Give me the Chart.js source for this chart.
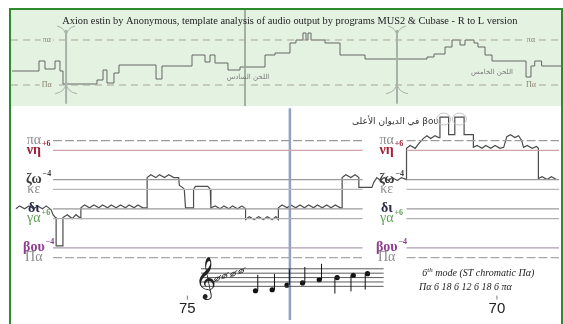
<!DOCTYPE html>
<html><head><meta charset="utf-8">
<script src="https://cdn.jsdelivr.net/npm/chart.js@4.4.0/dist/chart.umd.min.js"></script>
<style>
html,body{margin:0;padding:0;background:#fff;}
#wrap{position:relative;width:563px;height:324px;overflow:hidden;background:#fff;}
#main{position:absolute;left:0;top:0;}
#top{position:absolute;left:11px;top:10px;background:#e4f2e2;}
#frame{position:absolute;left:9px;top:8px;width:554px;height:330px;border-left:2px solid #2d8a2d;border-top:2px solid #2d8a2d;border-right:2px solid #2d8a2d;box-sizing:border-box;pointer-events:none;}
</style></head><body>
<div id="wrap"><canvas id="main" width="563" height="324"></canvas><canvas id="top" width="551" height="96"></canvas><div id="frame"></div></div>
<script>
const SERIF = "'Liberation Serif','DejaVu Serif',serif";

// ---------- main chart data (x = bar number, R to L; y = moria above Πα) ----------
const refNames  = ["πα","νη","ζω","κε","δι","γα","βου","Πα"];
const refSups   = ["","+6","−4","","","+6","−4",""];
const refMoria  = [72,66,48,42,30,24,6,0];
const refColors = ["#9c9c9c","#cfa3ab","#9a9a9a","#b8b8b8","#9a9a9a","#b0b0b0","#ab9db4","#a8a8a8"];
const labelColors = ["#8c8c8c","#a3203c","#3c3c3c","#8c8c8c","#262a48","#5f9e55","#8e3e8e","#8c8c8c"];
const labelBold = [false,true,true,false,true,false,true,false];
const refSpan = [77.17, 72.17, 71.46, 68.99];
const labelPos = [77.48, 71.78];
const tickValues = [75, 70];
const tickLabels = ["75", "70"];
const markerBar = 73.344;

const mainTrace = [
 [77.77,30],[77.71,31.8],[77.63,30],[77.56,31.8],[77.48,30],[77.42,31.8],[77.34,30],[77.28,31.8],[77.20,29.4],[77.17,26.4],[77.13,24.6],[77.12,24.6],[77.12,7.2],[77.01,7.2],[77.01,24.6],[76.94,26.4],[76.86,24],[76.80,26.4],[76.72,24],[76.72,30.6],
 [76.66,32.4],[76.58,30.6],[76.51,32.4],[76.43,30.6],[76.37,32.4],[76.29,30.6],[76.23,32.4],[76.15,30.6],[76.08,32.4],[76.00,30.6],[75.94,32.4],[75.86,30.6],[75.80,32.4],[75.72,30.6],[75.65,30.6],[75.65,49.2],
 [75.59,51],[75.51,49.2],[75.45,51],[75.37,49.2],[75.30,51],[75.22,49.2],[75.14,49.2],[75.13,44.4],[75.08,43.2],[75.05,42],[75.03,30.6],
 [74.90,30.6],[74.90,42],[74.87,43.8],[74.67,43.8],[74.63,42],[74.62,30.6],
 [74.55,31.8],[74.47,30],[74.41,31.8],[74.33,30],[74.27,31.8],[74.19,30],[74.12,31.8],[74.06,30],[74.06,23.4],
 [74.00,25.2],[73.92,23.4],[73.85,25.2],[73.77,23.4],[73.71,25.2],[73.63,23.4],[73.57,25.2],[73.53,23.4],[73.53,30.6],
 [73.47,32.4],[73.39,30.6],[73.33,32.4],[73.25,30.6],[73.18,32.4],[73.11,30.6],[73.04,32.4],[72.96,30.6],[72.90,32.4],[72.82,30.6],[72.75,32.4],[72.68,30.6],[72.61,32.4],[72.53,30.6],[72.50,30.6],[72.50,49.2],
 [72.44,51],[72.36,49.2],[72.29,51],[72.23,49.2],[72.23,43.2],
 [72.02,43.2],[71.99,46.2],[71.94,49.2],[71.88,47.4],[71.82,49.2],[71.75,47.4],[71.69,49.2],[71.61,47.4],[71.54,49.2],[71.46,48],[71.46,67.2],
 [71.40,69],[71.32,67.2],[71.26,70.2],[71.19,73.2],[71.13,75],[71.07,73.2],[71.00,75],[70.94,73.8],[70.92,73.8],[70.92,86.4],[70.78,86.4],[70.78,75.6],[70.68,75.6],[70.68,86.4],[70.53,86.4],[70.53,75.6],[70.38,75.6],[70.38,67.8],
 [70.32,69],[70.24,67.2],[70.18,69],[70.10,67.2],[70.03,69],[69.95,67.2],[69.89,67.8],[69.84,74.4],[69.78,75.6],[69.71,73.8],[69.65,75],[69.60,72],[69.57,67.8],[69.51,69],[69.43,67.2],[69.36,68.4],[69.33,67.2],[69.33,48.6],
 [69.27,49.8],[69.19,48],[69.12,49.8],[69.04,48]
];

// music example (staff drawn in chart units)
const staffSpan = [74.78, 71.83];
const staffMoria = [-6.9,-9.6,-12.3,-15,-17.7];
const noteBars  = [73.90,73.63,73.39,73.14,72.87,72.58,72.32,72.09];
const noteMoria = [-20.4,-19.8,-17.0,-15.6,-13.65,-12.3,-10.95,-9.9];
const noteStemUp = [true,true,true,true,true,false,false,false];
const graceBars  = [74.52,74.40,74.26,74.13];
const graceMoria = [-13.2,-11.4,-10.2,-8.4];
const clefPos = [74.71,-14.0];
const modeText = ["6", "th", " mode (ST chromatic Πα)"];
const modeText2 = "Πα 6 18 6 12 6 18 6 πα";
const modePos = [[70.30,-9.9],[70.51,-18.3]];
const upperNote = "في الديوان الأعلى βου";
const upperNotePos = [71.64, 83.4];
const peakRings = [[70.86,85.2],[70.605,85.2]];

// ---------- overview (top) data: x = % of piece, y = moria ----------
const topX = [0.18,5.08,6.17,7.99,8.89,9.44,15.61,16.70,17.42,18.69,19.60,26.32,27.40,32.85,35.21,36.12,37.02,39.38,41.56,46.10,47.91,50.63,51.72,52.99,53.54,53.90,54.45,56.99,59.71,64.25,75.50,76.77,78.77,80.04,81.49,82.40,84.03,84.75,86.03,87.30,93.47,94.37,95.05,96.30,99.82];
const topY = [22.4,38.4,25.6,38.4,22.4,1.6,8,24,3.2,19.2,32,9.6,30.4,48,36.8,48,35.2,24,28.8,48,51.2,67.2,72,83.2,72,83.2,72,67.2,48,41.6,44.8,49.6,60.8,72,64,72,67.2,60.8,48,38.4,12.8,30.4,38.4,30.4,30.4];
const topRefMoria = [72, 0];
const topRefNames = ["πα", "Πα"];
const topLabelX = [6.5, 94.37];
const topMarker = 42.47;
const bracketX = [10.0, 70.05];
const topArabic = ["اللحن السادس", "اللحن الخامس"];
const topArabicPos = [[43.01,12.8],[87.3,20.8]];
const titleText = "Axion estin by Anonymous, template analysis of audio output by programs MUS2 & Cubase - R to L version";
const titlePos = [50.6, 102.4];

// ---------- build main chart ----------
const mainDatasets = [];
refMoria.forEach((m,i)=>{
  mainDatasets.push({
    data:[{x:refSpan[0],y:m},{x:refSpan[1],y:m},{x:(refSpan[1]+refSpan[2])/2,y:null},{x:refSpan[2],y:m},{x:refSpan[3],y:m}],
    borderColor:refColors[i], borderWidth:1.2, borderDash:(i===0||i===7)?[9,3]:[],
    showLine:true, pointRadius:0, spanGaps:false
  });
});
staffMoria.forEach(m=>{
  mainDatasets.push({data:[{x:staffSpan[0],y:m},{x:staffSpan[1],y:m}],borderColor:'#333',borderWidth:0.8,showLine:true,pointRadius:0});
});
mainDatasets.push({data:[{x:markerBar,y:91.8},{x:markerBar,y:-38.4}],borderColor:'#8fa1c4',borderWidth:2.5,showLine:true,pointRadius:0});
mainDatasets.push({data:mainTrace.map(p=>({x:p[0],y:p[1]})),borderColor:'#4c4c4c',borderWidth:1.2,showLine:true,pointRadius:0});
mainDatasets.push({data:noteBars.map((b,i)=>({x:b,y:noteMoria[i]})),showLine:false,pointRadius:2.6,pointBackgroundColor:'#111',pointBorderWidth:0});

function drawLabel(ctx,cx,cy,base,sup,color,bold){
  ctx.font=(bold?'bold ':'')+'14px '+SERIF;
  const w=ctx.measureText(base).width;
  ctx.fillStyle=color; ctx.textBaseline='middle'; ctx.textAlign='left';
  ctx.fillText(base,cx-w/2,cy);
  if(sup){ctx.font='bold 8px '+SERIF; ctx.fillText(sup,cx+w/2+1,cy-6);}
}

const mainDecor = {
  id:'mainDecor',
  afterDatasetsDraw(chart){
    const {ctx, scales:{x,y}} = chart;
    ctx.save();
    refNames.forEach((n,i)=>{
      labelPos.forEach(p=>drawLabel(ctx,x.getPixelForValue(p),y.getPixelForValue(refMoria[i]),n,refSups[i],labelColors[i],labelBold[i]));
    });
    // ticks
    ctx.strokeStyle='#777'; ctx.lineWidth=1;
    tickValues.forEach((t,i)=>{
      const px=x.getPixelForValue(t);
      ctx.beginPath(); ctx.moveTo(px,y.getPixelForValue(-23.4)); ctx.lineTo(px,y.getPixelForValue(-25.8)); ctx.stroke();
      ctx.fillStyle='#222'; ctx.font="15px 'Liberation Sans',Arial,sans-serif"; ctx.textAlign='center'; ctx.textBaseline='middle';
      ctx.fillText(tickLabels[i],px,y.getPixelForValue(-31.8));
    });
    // stems
    ctx.strokeStyle='#111'; ctx.lineWidth=1;
    noteBars.forEach((b,i)=>{
      const px=x.getPixelForValue(b), py=y.getPixelForValue(noteMoria[i]);
      ctx.beginPath();
      if(noteStemUp[i]){ctx.moveTo(px+2.3,py); ctx.lineTo(px+2.3,py-16);} else {ctx.moveTo(px-2.3,py); ctx.lineTo(px-2.3,py+16);}
      ctx.stroke();
    });
    // grace marks
    graceBars.forEach((b,i)=>{
      const px=x.getPixelForValue(b), py=y.getPixelForValue(graceMoria[i]);
      ctx.beginPath(); ctx.ellipse(px,py,2.6,1.7,-0.5,0,Math.PI*2); ctx.strokeStyle='#333'; ctx.stroke();
      ctx.beginPath(); ctx.moveTo(px-3,py+3); ctx.lineTo(px+4,py-4); ctx.stroke();
    });
    // clef
    ctx.fillStyle='#222'; ctx.font="36px 'DejaVu Sans','Noto Sans',serif"; ctx.textAlign='center'; ctx.textBaseline='middle';
    ctx.fillText('𝄞',x.getPixelForValue(clefPos[0]),y.getPixelForValue(clefPos[1]));
    // mode text
    ctx.fillStyle='#222'; ctx.textBaseline='middle'; ctx.textAlign='left';
    const p1x=x.getPixelForValue(modePos[0][0]), p1y=y.getPixelForValue(modePos[0][1]);
    ctx.font="italic 10px "+SERIF;
    const w6=ctx.measureText(modeText[0]).width, wRest=ctx.measureText(modeText[2]).width;
    ctx.font="italic 7px "+SERIF; const wth=ctx.measureText(modeText[1]).width;
    let sx=p1x-(w6+wth+wRest)/2;
    ctx.font="italic 10px "+SERIF; ctx.fillText(modeText[0],sx,p1y);
    ctx.font="italic 7px "+SERIF; ctx.fillText(modeText[1],sx+w6,p1y-4);
    ctx.font="italic 10px "+SERIF; ctx.fillText(modeText[2],sx+w6+wth,p1y);
    ctx.textAlign='center';
    ctx.fillText(modeText2,x.getPixelForValue(modePos[1][0]),y.getPixelForValue(modePos[1][1]));
    // upper note
    ctx.font="9px 'DejaVu Sans',"+SERIF; ctx.fillStyle='#333';
    ctx.fillText(upperNote,x.getPixelForValue(upperNotePos[0]),y.getPixelForValue(upperNotePos[1]));
    // rings round peaks
    ctx.strokeStyle='#c4c4c4'; ctx.lineWidth=1;
    peakRings.forEach(r=>{ctx.beginPath(); ctx.ellipse(x.getPixelForValue(r[0]),y.getPixelForValue(r[1]),7,6,0,0,Math.PI*2); ctx.stroke();});
    ctx.restore();
  }
};

new Chart(document.getElementById('main'),{
  type:'scatter',
  data:{datasets:mainDatasets},
  options:{responsive:false,animation:false,devicePixelRatio:1,
    layout:{padding:0},
    plugins:{legend:{display:false},tooltip:{enabled:false}},
    scales:{
      x:{type:'linear',reverse:true,min:68.997,max:77.962,display:false},
      y:{type:'linear',min:-38.4,max:156,display:false}
    }},
  plugins:[mainDecor]
});

// ---------- build top chart ----------
const topDatasets = [];
topRefMoria.forEach(m=>{
  topDatasets.push({data:[{x:0,y:m},{x:100,y:m}],borderColor:'#a9a394',borderWidth:1,borderDash:[7,5],showLine:true,pointRadius:0});
});
topDatasets.push({data:[{x:topMarker,y:120},{x:topMarker,y:-33.6}],borderColor:'#9aa79a',borderWidth:1,showLine:true,pointRadius:0});
topDatasets.push({data:topX.map((t,i)=>({x:t,y:topY[i]})),borderColor:'#666',borderWidth:1,showLine:true,stepped:true,pointRadius:0});

const topDecor = {
  id:'topDecor',
  afterDatasetsDraw(chart){
    const {ctx, scales:{x,y}} = chart;
    ctx.save();
    ctx.textAlign='center'; ctx.textBaseline='middle';
    ctx.font="8px "+SERIF;
    topRefMoria.forEach((m,i)=>{
      topLabelX.forEach(t=>{
        const px=x.getPixelForValue(t), py=y.getPixelForValue(m);
        const w=ctx.measureText(topRefNames[i]).width;
        ctx.fillStyle='#e4f2e2'; ctx.fillRect(px-w/2-2,py-4,w+4,8);
        ctx.fillStyle='#8a8070'; ctx.fillText(topRefNames[i],px,py);
      });
    });
    ctx.font="7px 'DejaVu Sans',sans-serif"; ctx.fillStyle='#7a7a7a';
    topArabic.forEach((s,i)=>ctx.fillText(s,x.getPixelForValue(topArabicPos[i][0]),y.getPixelForValue(topArabicPos[i][1])));
    // brackets
    ctx.strokeStyle='#a8b2a8'; ctx.lineWidth=2;
    bracketX.forEach(b=>{
      const px=x.getPixelForValue(b);
      const yt=y.getPixelForValue(88), yb=y.getPixelForValue(-30);
      ctx.beginPath(); ctx.moveTo(px,yt); ctx.lineTo(px,yb); ctx.stroke();
      ctx.lineWidth=1;
      ctx.beginPath(); ctx.moveTo(px,yt+8); ctx.quadraticCurveTo(px,yt-2,px+9,yt-4); ctx.stroke();
      ctx.beginPath(); ctx.moveTo(px,yt+8); ctx.quadraticCurveTo(px,yt-2,px-9,yt-4); ctx.stroke();
      ctx.beginPath(); ctx.moveTo(px,yb-22); ctx.quadraticCurveTo(px,yb-12,px+11,yb-10); ctx.stroke();
      ctx.beginPath(); ctx.moveTo(px,yb-22); ctx.quadraticCurveTo(px,yb-12,px-11,yb-10); ctx.stroke();
      ctx.lineWidth=2;
    });
    ctx.fillStyle='#222'; ctx.font="10.4px "+SERIF;
    ctx.fillText(titleText,x.getPixelForValue(titlePos[0]),y.getPixelForValue(titlePos[1]));
    ctx.restore();
  }
};

new Chart(document.getElementById('top'),{
  type:'scatter',
  data:{datasets:topDatasets},
  options:{responsive:false,animation:false,devicePixelRatio:1,
    layout:{padding:0},
    plugins:{legend:{display:false},tooltip:{enabled:false}},
    scales:{
      x:{type:'linear',min:0,max:100,display:false},
      y:{type:'linear',min:-33.6,max:120,display:false}
    }},
  plugins:[topDecor]
});
</script>
</body></html>
